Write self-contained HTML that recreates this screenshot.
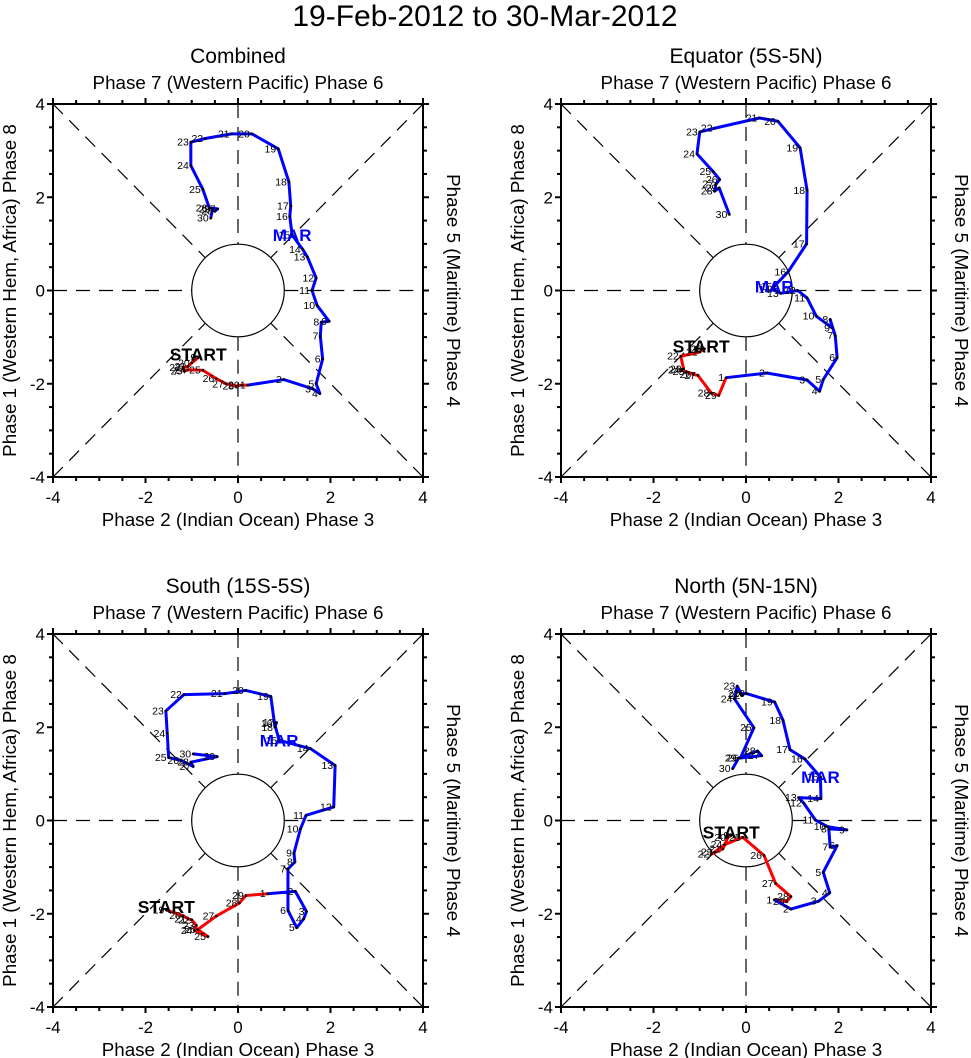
<!DOCTYPE html>
<html><head><meta charset="utf-8"><style>
body{margin:0;background:#fff;}
svg{display:block;font-family:"Liberation Sans",sans-serif;}
</style></head><body>
<svg id="chart" width="971" height="1058" viewBox="0 0 971 1058">
<text x="485" y="26" text-anchor="middle" font-size="30">19-Feb-2012 to 30-Mar-2012</text>
</svg>
<script>
// Feb days 19..29 (red), Mar days 1..30 (blue)
const febDays = [19,20,21,22,23,24,25,26,27,28,29];
const marDays = [1,2,3,4,5,6,7,8,9,10,11,12,13,14,15,16,17,18,19,20,21,22,23,24,25,26,27,28,29,30];
const titles = ["Combined","Equator (5S-5N)","South (15S-5S)","North (5N-15N)"];
const tickVals = [-4,-2,0,2,4];

const p1FebX = [-0.86,-1.0,-1.08,-1.19,-1.16,-1.08,-0.76,-0.47,-0.26,-0.04,0.08];
const p1FebY = [-1.44,-1.55,-1.63,-1.65,-1.73,-1.7,-1.71,-1.89,-2.0,-2.05,-2.03];
const p1MarX = [0.21,0.99,1.62,1.77,1.69,1.83,1.78,1.80,1.97,1.71,1.60,1.69,1.50,1.40,1.17,1.12,1.14,1.10,0.87,0.30,-0.14,-0.71,-1.02,-1.02,-0.76,-0.62,-0.44,-0.5,-0.55,-0.59];
const p1MarY = [-2.03,-1.91,-2.11,-2.21,-2.0,-1.47,-0.98,-0.68,-0.66,-0.32,0.0,0.27,0.72,0.88,1.19,1.59,1.81,2.33,3.04,3.36,3.36,3.26,3.18,2.68,2.17,1.77,1.75,1.7,1.75,1.55];

const p2FebX = [-0.97,-0.9,-1.0,-1.41,-1.35,-1.39,-1.29,-1.14,-1.04,-0.75,-0.59];
const p2FebY = [-1.27,-1.25,-1.32,-1.41,-1.68,-1.71,-1.74,-1.80,-1.82,-2.2,-2.25];
const p2MarX = [-0.43,0.45,1.32,1.59,1.67,1.97,1.93,1.82,1.86,1.52,1.32,1.12,0.75,0.57,0.61,0.91,1.31,1.32,1.17,0.69,0.29,-0.68,-1.0,-1.06,-0.71,-0.57,-0.65,-0.68,-0.58,-0.36];
const p2MarY = [-1.87,-1.77,-1.92,-2.16,-1.91,-1.44,-0.97,-0.62,-0.8,-0.55,-0.16,0.0,-0.06,0.02,0.09,0.4,1.0,2.15,3.06,3.63,3.7,3.48,3.4,2.93,2.55,2.38,2.28,2.13,2.2,1.63];

const p3FebX = [-1.55,-1.19,-1.08,-1.0,-0.9,-0.94,-0.65,-0.87,-0.47,0.03,0.17];
const p3FebY = [-1.92,-2.04,-2.11,-2.13,-2.25,-2.36,-2.49,-2.34,-2.05,-1.77,-1.61];
const p3MarX = [0.64,1.24,1.48,1.42,1.27,1.08,1.08,1.23,1.21,1.35,1.47,2.07,2.1,1.57,0.89,0.79,0.83,0.80,0.71,0.17,-0.29,-1.17,-1.56,-1.53,-1.5,-1.23,-0.97,-1.02,-0.45,-0.97];
const p3MarY = [-1.57,-1.52,-1.95,-2.11,-2.30,-1.93,-1.04,-0.89,-0.7,-0.18,0.11,0.29,1.18,1.54,1.72,2.08,2.1,2.0,2.66,2.79,2.72,2.70,2.35,1.87,1.35,1.29,1.16,1.25,1.37,1.43];

const p4FebX = [-0.32,-0.39,-0.5,-0.75,-0.68,-0.47,-0.07,0.39,0.64,0.97,0.88];
const p4FebY = [-0.32,-0.36,-0.61,-0.72,-0.68,-0.52,-0.36,-0.75,-1.35,-1.63,-1.74];
const p4MarX = [0.61,0.97,1.57,1.81,1.67,1.97,1.82,1.79,2.18,1.76,1.50,1.25,1.14,1.62,1.61,1.27,0.95,0.80,0.62,0.02,-0.1,-0.08,-0.19,-0.25,0.17,-0.12,0.34,0.25,-0.16,-0.29];
const p4MarY = [-1.70,-1.9,-1.73,-1.55,-1.11,-0.54,-0.57,-0.18,-0.2,-0.13,0.01,0.37,0.49,0.47,0.93,1.32,1.52,2.15,2.54,2.72,2.72,2.68,2.88,2.61,1.99,1.34,1.39,1.49,1.34,1.11];

const panels = [
  {fx:p1FebX,fy:p1FebY,mx:p1MarX,my:p1MarY,x0:53,y0:104},
  {fx:p2FebX,fy:p2FebY,mx:p2MarX,my:p2MarY,x0:561,y0:104},
  {fx:p3FebX,fy:p3FebY,mx:p3MarX,my:p3MarY,x0:53,y0:634},
  {fx:p4FebX,fy:p4FebY,mx:p4MarX,my:p4MarY,x0:561,y0:634}
];
const NS='http://www.w3.org/2000/svg';
const svg=document.getElementById('chart');
function mk(tag,attrs,parent,txt){const e=document.createElementNS(NS,tag);for(const k in attrs)e.setAttribute(k,attrs[k]);if(txt!==undefined)e.textContent=txt;(parent||svg).appendChild(e);return e;}
const W=370,H=373;
panels.forEach((p,i)=>{
  const sx=v=>p.x0+(v+4)/8*W;
  const sy=v=>p.y0+(4-v)/8*H;
  const g=mk('g',{});
  
  
  const cx=sx(0),cy=sy(0);
  const t=mk('text',{x:cx,y:p.y0-41,'text-anchor':'middle','font-size':21},g,titles[i]);
  
  
  const tt=mk('text',{x:cx,y:p.y0-15,'text-anchor':'middle','font-size':18.8},g,'Phase 7 (Western Pacific) Phase 6');
  
  
  const bt=mk('text',{x:cx,y:p.y0+H+49,'text-anchor':'middle','font-size':18.8},g,'Phase 2 (Indian Ocean) Phase 3');
  
  
  const lt=mk('text',{x:0,y:0,'text-anchor':'middle','font-size':18.8,transform:`translate(${p.x0-37},${cy}) rotate(-90)`},g,'Phase 1 (Western Hem, Africa) Phase 8');
  
  
  const rt=mk('text',{x:0,y:0,'text-anchor':'middle','font-size':18.8,transform:`translate(${p.x0+W+24},${cy}) rotate(90)`},g,'Phase 5 (Maritime) Phase 4');
  
  
  const dash={stroke:'#000','stroke-width':1.2,'stroke-dasharray':'14,9',fill:'none'};
  const r=46.3;const d=r/Math.SQRT2;
  [[sx(-4),sy(-4),cx-d,cy+d],[sx(4),sy(4),cx+d,cy-d],[sx(-4),sy(4),cx-d,cy-d],[sx(4),sy(-4),cx+d,cy+d],
   [sx(-4),cy,cx-r,cy],[cx+r,cy,sx(4),cy],[cx,sy(4),cx,cy-r],[cx,cy+r,cx,sy(-4)]].forEach(l=>{
    const ln=mk('line',Object.assign({x1:l[0],y1:l[1],x2:l[2],y2:l[3]},dash),g);
    
    
  });
  const c=mk('circle',{cx:cx,cy:cy,r:r,fill:'#fff',stroke:'#000','stroke-width':1.2},g);
  
  
  const fr=mk('rect',{x:p.x0,y:p.y0,width:W,height:H,fill:'none',stroke:'#000','stroke-width':2},g);
  
  
  for(let v=-4;v<=4.001;v+=0.5){
    const maj=Math.abs(v%2)<0.01;const L=maj?6:4;
    mk('line',{x1:sx(v),y1:p.y0+H,x2:sx(v),y2:p.y0+H+L,stroke:'#000','stroke-width':2},g);
    mk('line',{x1:sx(v),y1:p.y0,x2:sx(v),y2:p.y0-L,stroke:'#000','stroke-width':2},g);
    mk('line',{x1:p.x0,y1:sy(v),x2:p.x0-L,y2:sy(v),stroke:'#000','stroke-width':2},g);
    mk('line',{x1:p.x0+W,y1:sy(v),x2:p.x0+W+L,y2:sy(v),stroke:'#000','stroke-width':2},g);
  }
  tickVals.forEach(v=>{
    const a=mk('text',{x:sx(v),y:p.y0+H+26,'text-anchor':'middle','font-size':17},g,String(v));
    
    
    const b=mk('text',{x:p.x0-8,y:sy(v)+6,'text-anchor':'end','font-size':17},g,String(v));
    
    
  });
  const fpts=p.fx.map((v,k)=>sx(v)+','+sy(p.fy[k]));
  fpts.push(sx(p.mx[0])+','+sy(p.my[0]));
  const rl=mk('polyline',{points:fpts.join(' '),fill:'none',stroke:'#f00','stroke-width':3,'stroke-linejoin':'round'},g);
  
  
  const mpts=p.mx.map((v,k)=>sx(v)+','+sy(p.my[k]));
  const bl=mk('polyline',{points:mpts.join(' '),fill:'none',stroke:'#00f','stroke-width':3,'stroke-linejoin':'round'},g);
  
  
  const lbl=(x,y,day)=>{
    mk('circle',{cx:x,cy:y,r:1.3,fill:'#000'},g);
    const tx=mk('text',{x:x-2,y:y+3.5,'text-anchor':'end','font-size':10.5},g,String(day));
    
    
  };
  p.fx.forEach((v,k)=>lbl(sx(v),sy(p.fy[k]),febDays[k]));
  p.mx.forEach((v,k)=>lbl(sx(v),sy(p.my[k]),marDays[k]));
  const st=mk('text',{x:sx(p.fx[0]),y:sy(p.fy[0])+3,'text-anchor':'middle','font-size':17.5,'font-weight':'bold'},g,'START');
  
  
  const ml=mk('text',{x:sx(p.mx[14]),y:sy(p.my[14])+6,'text-anchor':'middle','font-size':17,'font-weight':'bold',fill:'#00f'},g,'MAR');
  
  
});
</script>
</body></html>
